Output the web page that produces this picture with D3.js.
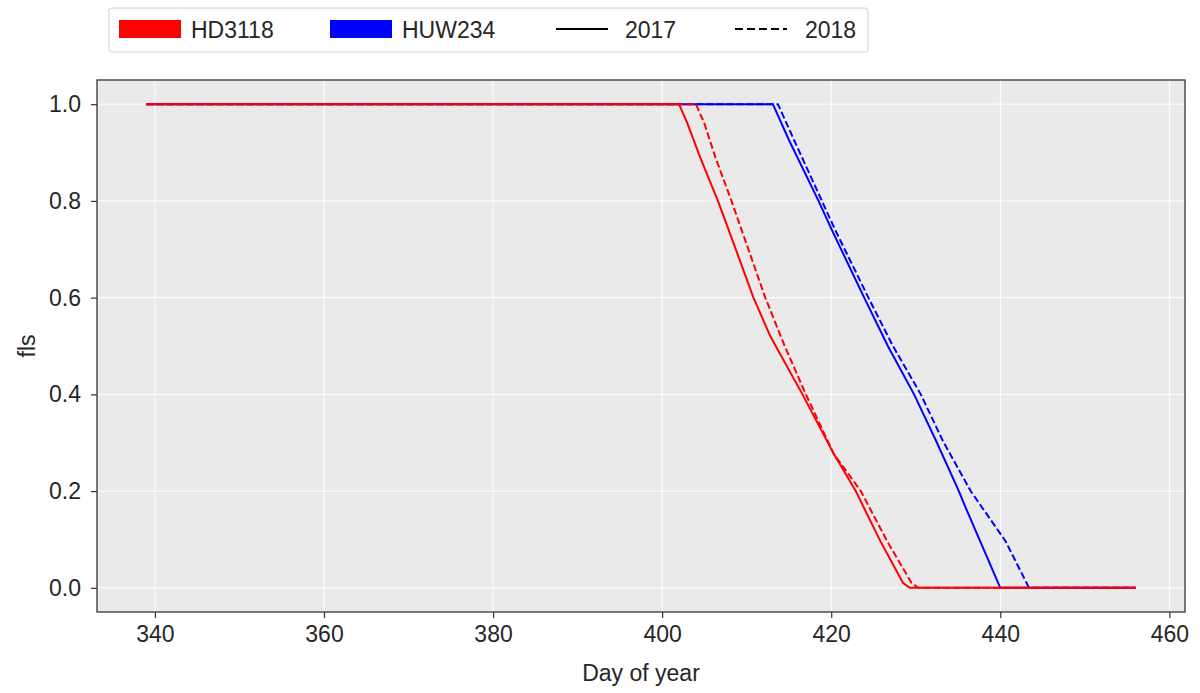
<!DOCTYPE html>
<html>
<head>
<meta charset="utf-8">
<script src="https://cdn.jsdelivr.net/npm/d3@7"></script>
<style>
  body { margin: 0; background: #fff; }
  text { font-family: "Liberation Sans", Arial, sans-serif; fill: #262626; }
</style>
</head>
<body>
<svg id="chart" width="1200" height="693"></svg>
<script>
// series: [day of year, fls]
var hd3118_2017 = [[339,1],[402,1],[403,0.96],[404.5,0.89],[406.6,0.8],[408.5,0.71],[410.8,0.6],[412.8,0.52],[416.6,0.4],[420.3,0.277],[422.9,0.2],[425.8,0.097],[428.5,0.01],[429.3,0],[456,0]];
var hd3118_2018 = [[339,1],[404,1],[405,0.96],[406.3,0.89],[408.2,0.8],[412.2,0.6],[414.5,0.5],[417,0.4],[420.3,0.277],[423.5,0.2],[426.6,0.097],[429.5,0.01],[430.3,0],[456,0]];
var huw234_2017 = [[339,1],[413.1,1],[415,0.926],[418.5,0.8],[420.1,0.739],[423.9,0.6],[426.7,0.5],[429.8,0.4],[432.4,0.304],[435.1,0.2],[435.9,0.166],[440,0],[456,0]];
var huw234_2018 = [[339,1],[413.7,1],[415.6,0.926],[418.9,0.8],[420.5,0.739],[424.4,0.6],[427.3,0.5],[430.6,0.4],[433.2,0.304],[436.5,0.2],[440.6,0.097],[443.4,0],[456,0]];

var xTicks = [340, 360, 380, 400, 420, 440, 460];
var yTicks = [0.0, 0.2, 0.4, 0.6, 0.8, 1.0];

var varieties = ["HD3118", "HUW234"];
var varietyColors = ["#ff0000", "#0000ff"];
var years = ["2017", "2018"];

var svg = d3.select("#chart");

var plotLeft = 97, plotRight = 1185, plotTop = 80, plotBottom = 612;

var x = d3.scaleLinear().domain([333.15, 461.85]).range([plotLeft, plotRight]);
var y = d3.scaleLinear().domain([-0.05, 1.05]).range([plotBottom, plotTop]);

// background
svg.append("rect")
    .attr("x", plotLeft).attr("y", plotTop)
    .attr("width", plotRight - plotLeft).attr("height", plotBottom - plotTop)
    .attr("fill", "#eaeaea");

// grid
svg.append("g").selectAll("line")
    .data(xTicks.filter(function(d){ return x(d) < plotRight; }))
    .enter().append("line")
    .attr("x1", function(d){ return x(d); }).attr("x2", function(d){ return x(d); })
    .attr("y1", plotTop).attr("y2", plotBottom)
    .attr("stroke", "#fff").attr("stroke-width", 1);

svg.append("g").selectAll("line")
    .data(yTicks)
    .enter().append("line")
    .attr("y1", function(d){ return y(d); }).attr("y2", function(d){ return y(d); })
    .attr("x1", plotLeft).attr("x2", plotRight)
    .attr("stroke", "#fff").attr("stroke-width", 1);

// lines: blue first, red on top
var line = d3.line()
    .x(function(d){ return x(d[0]); })
    .y(function(d){ return y(d[1]); });

var series = [
    {data: huw234_2017, color: varietyColors[1], dash: null},
    {data: huw234_2018, color: varietyColors[1], dash: "7,3"},
    {data: hd3118_2017, color: varietyColors[0], dash: null},
    {data: hd3118_2018, color: varietyColors[0], dash: "7,3"}
];

svg.append("g").selectAll("path")
    .data(series)
    .enter().append("path")
    .attr("d", function(d){ return line(d.data); })
    .attr("fill", "none")
    .attr("stroke", function(d){ return d.color; })
    .attr("stroke-width", 2)
    .attr("stroke-dasharray", function(d){ return d.dash; });

// axes
var xAxis = svg.append("g")
    .attr("transform", "translate(0," + plotBottom + ")")
    .call(d3.axisBottom(x).tickValues(xTicks).tickSize(6).tickPadding(8).tickFormat(d3.format("d")));

var yAxis = svg.append("g")
    .attr("transform", "translate(" + plotLeft + ",0)")
    .call(d3.axisLeft(y).tickValues(yTicks).tickSize(6).tickPadding(10).tickFormat(d3.format(".1f")));

[xAxis, yAxis].forEach(function(a){
    a.select(".domain").remove();
    a.selectAll("line").attr("stroke", "#333").attr("stroke-width", 1.2);
    a.selectAll("text").attr("font-size", "23px").attr("fill", "#262626")
        .style("font-family", "Liberation Sans, Arial, sans-serif");
});

// frame
svg.append("rect")
    .attr("x", plotLeft).attr("y", plotTop)
    .attr("width", plotRight - plotLeft).attr("height", plotBottom - plotTop)
    .attr("fill", "none").attr("stroke", "#333").attr("stroke-width", 1.3);

// axis labels
svg.append("text")
    .attr("x", (plotLeft + plotRight) / 2).attr("y", 681)
    .attr("text-anchor", "middle").attr("font-size", "23px")
    .text("Day of year");

svg.append("text")
    .attr("transform", "translate(35," + ((plotTop + plotBottom) / 2) + ") rotate(-90)")
    .attr("text-anchor", "middle").attr("font-size", "23px")
    .text("fls");

// legend
var legend = svg.append("g");
legend.append("rect")
    .attr("x", 109).attr("y", 8).attr("width", 759).attr("height", 44)
    .attr("rx", 3).attr("fill", "#fff").attr("stroke", "#d0d0d0");

var patchX = [119, 330];
var textX = [191, 402];
varieties.forEach(function(v, i){
    legend.append("rect")
        .attr("x", patchX[i]).attr("y", 20).attr("width", 62).attr("height", 18)
        .attr("fill", varietyColors[i]);
    legend.append("text")
        .attr("x", textX[i]).attr("y", 38).attr("font-size", "23px").text(v);
});

var lineX = [556, 735];
var yearX = [625, 805];
years.forEach(function(yr, i){
    legend.append("line")
        .attr("x1", lineX[i]).attr("x2", lineX[i] + 52)
        .attr("y1", 29).attr("y2", 29)
        .attr("stroke", "#000").attr("stroke-width", 2)
        .attr("stroke-dasharray", i === 1 ? "8,4" : null);
    legend.append("text")
        .attr("x", yearX[i]).attr("y", 38).attr("font-size", "23px").text(yr);
});
</script>
</body>
</html>
